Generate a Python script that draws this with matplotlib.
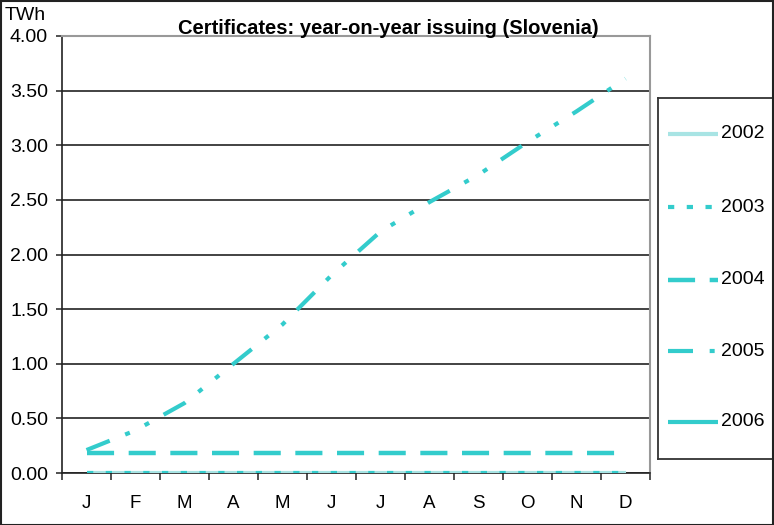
import matplotlib
matplotlib.use("Agg")
import matplotlib.pyplot as plt
import numpy as np
from matplotlib.patches import Rectangle

plt.rcParams['font.family'] = ['Liberation Sans', 'DejaVu Sans']
plt.rcParams['lines.scale_dashes'] = False

months = ['J', 'F', 'M', 'A', 'M', 'J', 'J', 'A', 'S', 'O', 'N', 'D']
y2002 = [0.0] * 12
y2003 = [0.0] * 12
y2004 = [0.18] * 12
y2005 = [0.21, 0.39, 0.64, 1.00, 1.36, 1.81, 2.21, 2.48, 2.73, 3.03, 3.31, 3.61]
y2006 = [None] * 12
yticks = [0.0, 0.5, 1.0, 1.5, 2.0, 2.5, 3.0, 3.5, 4.0]

cyan = '#33CCCC'
pale = '#A8E4E4'

W, H = 774, 525
fig = plt.figure(figsize=(W / 100, H / 100), dpi=100)
ax = fig.add_axes([62 / W, 52 / H, (650 - 62) / W, (473 - 36) / H])

x = np.arange(len(months))


def arr(v):
    return np.array([np.nan if a is None else a for a in v], dtype=float)


series = [
    ('2002', y2002, dict(color=pale, lw=3.0, linestyle='-')),
    ('2003', y2003, dict(color=cyan, lw=3.0, dashes=(4.5, 9))),
    ('2004', y2004, dict(color=cyan, lw=3.2, dashes=(19.5, 10.5))),
    ('2005', y2005, dict(color=cyan, lw=3.0, dashes=(18, 12, 3.6, 12, 3.6, 12))),
    ('2006', y2006, dict(color=cyan, lw=3.0, linestyle='-')),
]
for name, vals, st in series:
    ax.plot(x, arr(vals), solid_capstyle='butt', dash_capstyle='butt',
            label=name, zorder=3, **st)

ax.set_xlim(-0.5, 11.5)
ax.set_ylim(0, 4.0)
ax.set_yticks(yticks)
ax.set_yticklabels([f'{v:.2f}' for v in yticks], fontsize=14)
ax.yaxis.grid(True, color='#222222', lw=1.2, zorder=1)
ax.set_axisbelow(True)

ax.set_xticks(np.arange(-0.5, 12, 1.0))
ax.set_xticklabels([])
ax.set_xticks(x, minor=True)
ax.set_xticklabels(months, minor=True, fontsize=13.5)
ax.tick_params(axis='x', which='major', direction='out', length=5, width=1.2, color='#333333')
ax.tick_params(axis='x', which='minor', length=0, pad=16)
ax.tick_params(axis='y', direction='out', length=4, width=1.2, color='#333333', pad=6)

for side in ('top', 'right'):
    ax.spines[side].set_color('#999999')
    ax.spines[side].set_linewidth(1.5)
for side in ('left', 'bottom'):
    ax.spines[side].set_color('#222222')
    ax.spines[side].set_linewidth(1.2)

fig.text(388 / W, 1 - 29 / H, 'Certificates: year-on-year issuing (Slovenia)',
         ha='center', va='center', fontsize=14.5, fontweight='bold')
fig.text(5 / W, 1 - 16 / H, 'TWh', ha='left', va='center', fontsize=14)

# legend panel on the right
lx0, lx1, ly0, ly1 = 658, 773, 98, 459
lax = fig.add_axes([lx0 / W, 1 - ly1 / H, (lx1 - lx0) / W, (ly1 - ly0) / H])
lax.set_xlim(lx0, lx1)
lax.set_ylim(ly1, ly0)
lax.set_xticks([])
lax.set_yticks([])
for sp in lax.spines.values():
    sp.set_color('#333333')
    sp.set_linewidth(1.3)
entry_y = [134, 207, 280, 351, 422]
for (name, vals, st), yy in zip(series, entry_y):
    lax.plot([668, 718], [yy, yy], solid_capstyle='butt', dash_capstyle='butt', **st)
    lax.text(721, yy, name, ha='left', va='center', fontsize=14)

fig.patches.append(Rectangle((1 / W, 0.5 / H), 772 / W, 523.5 / H, transform=fig.transFigure,
                             fill=False, edgecolor='#222222', lw=1.5))

fig.savefig('out.png', dpi=100)
